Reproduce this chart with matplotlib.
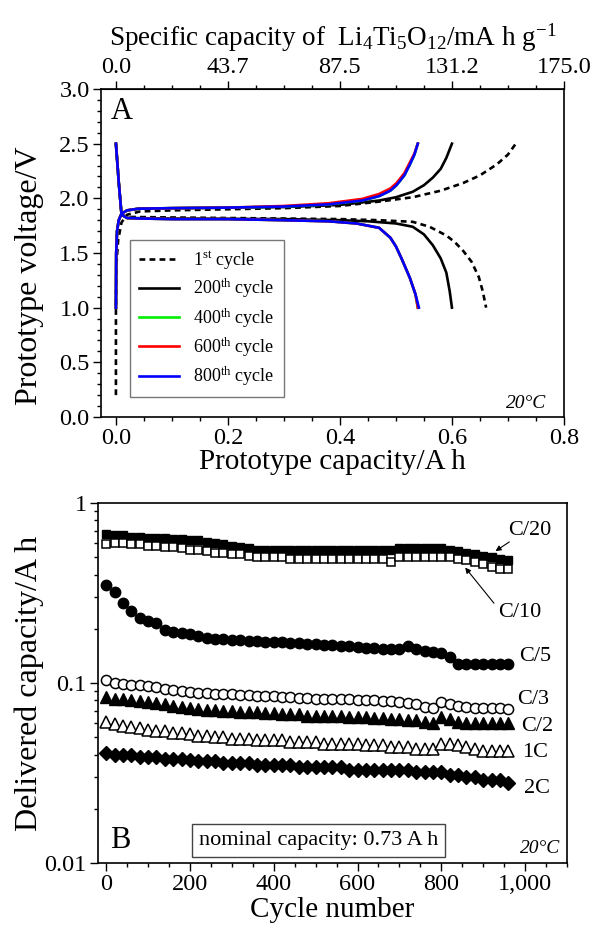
import numpy as np
import matplotlib
matplotlib.use("Agg")
import matplotlib.pyplot as plt
from matplotlib.ticker import MultipleLocator, FixedLocator, FuncFormatter, LogLocator, NullFormatter

plt.rcParams['font.family'] = ['Liberation Serif', 'DejaVu Serif']
plt.rcParams['mathtext.fontset'] = 'custom'
plt.rcParams['mathtext.rm'] = 'Liberation Serif'
plt.rcParams['mathtext.it'] = 'Liberation Serif:italic'

# ---------------- Panel A data (capacity / A h, voltage / V) ----------------
c1_chg_x = [0, 0, 0.001, 0.004, 0.01, 0.02, 0.043, 0.1, 0.2, 0.3, 0.4, 0.47, 0.53, 0.58, 0.62, 0.65, 0.68, 0.70, 0.714]
c1_chg_v = [0.2, 1.0, 1.40, 1.62, 1.78, 1.85, 1.88, 1.89, 1.90, 1.91, 1.93, 1.97, 2.01, 2.07, 2.14, 2.21, 2.31, 2.40, 2.50]
c1_dis_x = [0, 0.005, 0.01, 0.02, 0.1, 0.3, 0.4, 0.47, 0.53, 0.56, 0.59, 0.605, 0.62, 0.635, 0.648, 0.655, 0.661]
c1_dis_v = [2.5, 2.15, 1.85, 1.83, 1.825, 1.815, 1.81, 1.80, 1.785, 1.74, 1.66, 1.60, 1.52, 1.42, 1.28, 1.15, 1.0]

c200_chg_x = [0, 0.0005, 0.002, 0.005, 0.01, 0.02, 0.04, 0.1, 0.2, 0.3, 0.4, 0.47, 0.50, 0.53, 0.55, 0.566, 0.58, 0.59, 0.60]
c200_chg_v = [1.0, 1.5, 1.70, 1.80, 1.86, 1.89, 1.905, 1.91, 1.915, 1.92, 1.94, 1.98, 2.01, 2.06, 2.12, 2.19, 2.27, 2.37, 2.50]
c200_dis_x = [0, 0.005, 0.01, 0.02, 0.1, 0.3, 0.4, 0.45, 0.50, 0.53, 0.55, 0.566, 0.58, 0.59, 0.596, 0.60]
c200_dis_v = [2.5, 2.15, 1.85, 1.82, 1.815, 1.81, 1.80, 1.79, 1.77, 1.74, 1.67, 1.57, 1.45, 1.32, 1.15, 1.0]

c400_chg_x = [0, 0.0005, 0.002, 0.005, 0.01, 0.02, 0.04, 0.1, 0.2, 0.3, 0.38, 0.44, 0.47, 0.49, 0.501, 0.515, 0.525, 0.533, 0.539]
c400_chg_v = [1.0, 1.5, 1.70, 1.80, 1.86, 1.89, 1.905, 1.91, 1.915, 1.925, 1.945, 1.98, 2.02, 2.07, 2.12, 2.21, 2.31, 2.40, 2.50]
c400_dis_x = [0, 0.005, 0.01, 0.02, 0.05, 0.1, 0.2, 0.3, 0.38, 0.43, 0.47, 0.49, 0.50, 0.51, 0.525, 0.535, 0.539]
c400_dis_v = [2.5, 2.15, 1.85, 1.82, 1.815, 1.81, 1.81, 1.80, 1.79, 1.77, 1.73, 1.64, 1.56, 1.45, 1.27, 1.12, 1.0]

c600_chg_x = [0, 0.0005, 0.002, 0.005, 0.01, 0.02, 0.04, 0.1, 0.2, 0.3, 0.38, 0.44, 0.47, 0.49, 0.501, 0.515, 0.525, 0.533, 0.539]
c600_chg_v = [1.0, 1.5, 1.70, 1.80, 1.86, 1.89, 1.905, 1.91, 1.915, 1.93, 1.955, 1.995, 2.04, 2.09, 2.14, 2.23, 2.33, 2.41, 2.50]
c600_dis_x = [0, 0.005, 0.01, 0.02, 0.05, 0.1, 0.2, 0.3, 0.38, 0.43, 0.47, 0.49, 0.50, 0.51, 0.525, 0.535, 0.539]
c600_dis_v = [2.5, 2.15, 1.85, 1.82, 1.815, 1.81, 1.81, 1.80, 1.79, 1.77, 1.73, 1.64, 1.56, 1.45, 1.27, 1.12, 1.0]

c800_chg_x = [0, 0.0005, 0.002, 0.005, 0.01, 0.02, 0.04, 0.1, 0.2, 0.3, 0.38, 0.44, 0.47, 0.49, 0.501, 0.515, 0.525, 0.533, 0.539]
c800_chg_v = [1.0, 1.5, 1.70, 1.80, 1.86, 1.89, 1.905, 1.91, 1.915, 1.925, 1.945, 1.98, 2.02, 2.07, 2.12, 2.21, 2.31, 2.40, 2.50]
c800_dis_x = [0, 0.005, 0.01, 0.02, 0.05, 0.1, 0.2, 0.3, 0.38, 0.43, 0.47, 0.49, 0.50, 0.51, 0.525, 0.535, 0.541]
c800_dis_v = [2.5, 2.15, 1.85, 1.82, 1.815, 1.81, 1.81, 1.80, 1.79, 1.77, 1.73, 1.64, 1.56, 1.45, 1.27, 1.12, 1.0]

cycle_labels = [r"1$^{\mathrm{st}}$ cycle", r"200$^{\mathrm{th}}$ cycle", r"400$^{\mathrm{th}}$ cycle",
                r"600$^{\mathrm{th}}$ cycle", r"800$^{\mathrm{th}}$ cycle"]

# ---------------- Panel B data (cycle number, delivered capacity / A h) ----------------
cycles = list(range(0, 961, 20))
cap_c20 = [0.67, 0.66, 0.66, 0.65, 0.65, 0.64, 0.64, 0.64, 0.63, 0.63, 0.62, 0.62, 0.61, 0.60, 0.59, 0.58,
           0.57, 0.56, 0.55, 0.55, 0.55, 0.55, 0.55, 0.55, 0.55, 0.55, 0.55, 0.55, 0.55, 0.55, 0.55, 0.55,
           0.55, 0.55, 0.55, 0.56, 0.56, 0.56, 0.56, 0.56, 0.56, 0.55, 0.54, 0.53, 0.52, 0.51, 0.50, 0.49, 0.48]
cap_c10 = [0.59, 0.60, 0.60, 0.59, 0.59, 0.58, 0.58, 0.57, 0.57, 0.56, 0.55, 0.55, 0.54, 0.53, 0.53, 0.52,
           0.52, 0.51, 0.50, 0.50, 0.50, 0.50, 0.49, 0.49, 0.49, 0.49, 0.49, 0.49, 0.49, 0.49, 0.49, 0.49,
           0.49, 0.49, 0.47, 0.50, 0.50, 0.50, 0.50, 0.50, 0.50, 0.50, 0.49, 0.48, 0.47, 0.46, 0.44, 0.43, 0.43]
cap_c5 = [0.35, 0.32, 0.28, 0.25, 0.23, 0.22, 0.215, 0.197, 0.192, 0.19, 0.188, 0.182, 0.178, 0.176, 0.175,
          0.174, 0.173, 0.172, 0.171, 0.170, 0.169, 0.168, 0.167, 0.166, 0.165, 0.164, 0.163, 0.162, 0.161,
          0.160, 0.159, 0.157, 0.156, 0.155, 0.154, 0.155, 0.160, 0.155, 0.150, 0.148, 0.146, 0.140, 0.128,
          0.128, 0.128, 0.127, 0.127, 0.127, 0.127]
cap_c3 = [0.104, 0.100, 0.099, 0.098, 0.097, 0.096, 0.095, 0.093, 0.091, 0.090, 0.089, 0.088, 0.088, 0.087,
          0.087, 0.087, 0.086, 0.086, 0.085, 0.085, 0.085, 0.084, 0.084, 0.083, 0.083, 0.082, 0.082, 0.081,
          0.081, 0.081, 0.080, 0.080, 0.080, 0.079, 0.079, 0.078, 0.077, 0.076, 0.074, 0.073, 0.078, 0.076,
          0.075, 0.074, 0.073, 0.073, 0.073, 0.073, 0.072]
cap_c2 = [0.084, 0.082, 0.081, 0.080, 0.079, 0.078, 0.077, 0.076, 0.075, 0.074, 0.073, 0.072, 0.071, 0.071,
          0.070, 0.070, 0.069, 0.069, 0.069, 0.068, 0.068, 0.067, 0.067, 0.067, 0.066, 0.066, 0.066, 0.066,
          0.066, 0.065, 0.065, 0.065, 0.064, 0.064, 0.063, 0.063, 0.062, 0.062, 0.061, 0.060, 0.065, 0.063,
          0.061, 0.060, 0.060, 0.060, 0.060, 0.060, 0.060]
cap_1c = [0.061, 0.059, 0.058, 0.057, 0.056, 0.055, 0.054, 0.054, 0.053, 0.053, 0.052, 0.051, 0.051, 0.050,
          0.050, 0.049, 0.049, 0.049, 0.048, 0.048, 0.048, 0.048, 0.047, 0.047, 0.047, 0.047, 0.046, 0.046,
          0.046, 0.046, 0.046, 0.045, 0.045, 0.045, 0.044, 0.044, 0.044, 0.043, 0.043, 0.043, 0.046, 0.046,
          0.045, 0.044, 0.043, 0.042, 0.042, 0.042, 0.042]
cap_2c = [0.041, 0.040, 0.040, 0.040, 0.039, 0.039, 0.039, 0.038, 0.038, 0.038, 0.0375, 0.037, 0.037, 0.037,
          0.036, 0.036, 0.036, 0.036, 0.035, 0.035, 0.035, 0.035, 0.035, 0.034, 0.034, 0.034, 0.034, 0.034,
          0.034, 0.033, 0.033, 0.033, 0.033, 0.033, 0.033, 0.033, 0.033, 0.032, 0.032, 0.032, 0.032, 0.031,
          0.031, 0.030, 0.030, 0.029, 0.029, 0.029, 0.028]
rate_labels = ["C/20", "C/10", "C/5", "C/3", "C/2", "1C", "2C"]

# ---------------- Figure ----------------
TICK = 17.5
fig = plt.figure(figsize=(5.93, 9.32), dpi=100)
axA = fig.add_axes([0.170, 0.5526, 0.781, 0.3519])
axB = fig.add_axes([0.165, 0.0740, 0.791, 0.3863])

lw = 1.9
axA.plot(c1_chg_x, c1_chg_v, color='black', lw=lw, ls=(0, (2.2, 1.6)), label=cycle_labels[0])
axA.plot(c1_dis_x, c1_dis_v, color='black', lw=lw, ls=(0, (2.2, 1.6)))
axA.plot(c200_chg_x, c200_chg_v, color='black', lw=lw, label=cycle_labels[1])
axA.plot(c200_dis_x, c200_dis_v, color='black', lw=lw)
axA.plot(c400_chg_x, c400_chg_v, color='#00ee00', lw=lw, label=cycle_labels[2])
axA.plot(c400_dis_x, c400_dis_v, color='#00ee00', lw=lw)
axA.plot(c600_chg_x, c600_chg_v, color='#ff0000', lw=lw, label=cycle_labels[3])
axA.plot(c600_dis_x, c600_dis_v, color='#ff0000', lw=lw)
axA.plot(c800_chg_x, c800_chg_v, color='#0000ff', lw=lw, label=cycle_labels[4])
axA.plot(c800_dis_x, c800_dis_v, color='#0000ff', lw=lw)

axA.set_xlim(-0.027, 0.8)
axA.set_ylim(0, 3.0)
axA.xaxis.set_major_locator(MultipleLocator(0.2))
axA.xaxis.set_minor_locator(MultipleLocator(0.05))
axA.yaxis.set_major_locator(MultipleLocator(0.5))
axA.yaxis.set_minor_locator(MultipleLocator(0.1))
axA.xaxis.set_major_formatter(FuncFormatter(lambda v, p: f"{v:.1f}"))
axA.yaxis.set_major_formatter(FuncFormatter(lambda v, p: f"{v:.1f}"))
axA.tick_params(axis='both', which='major', direction='out', length=6, width=1, labelsize=TICK, pad=2)
axA.tick_params(axis='both', which='minor', direction='out', length=3, width=1)
axA.tick_params(top=False, right=False)
axA.set_xlabel("Prototype capacity/A h", fontsize=21, labelpad=0)
axA.set_ylabel("Prototype voltage/V", fontsize=23)
axA.yaxis.set_label_coords(-0.123, 0.43)

sec = axA.secondary_xaxis('top', functions=(lambda x: x * 218.75, lambda s: s / 218.75))
sec.xaxis.set_major_locator(FixedLocator([0, 43.75, 87.5, 131.25, 175.0]))
sec.xaxis.set_minor_locator(MultipleLocator(10.9375))
sec.set_xticklabels(["0.0", "43.7", "87.5", "131.2", "175.0"])
sec.tick_params(which='major', direction='out', length=6, width=1, labelsize=TICK, pad=2)
sec.tick_params(which='minor', direction='out', length=3, width=1)
sec.set_xlabel(r"Specific capacity of  Li$_4$Ti$_5$O$_{12}$/mA h g$^{-1}$", fontsize=19.5, labelpad=8)

leg = axA.legend(loc='lower left', bbox_to_anchor=(0.063, 0.061), borderaxespad=0, fontsize=13,
                 frameon=True, fancybox=False, edgecolor='#555555', handlelength=2.2,
                 labelspacing=0.32, borderpad=0.5, handletextpad=0.8)
leg.get_frame().set_linewidth(1.0)
axA.text(0.046, 0.931, "A", transform=axA.transAxes, fontsize=22, va='center', ha='center')
axA.text(0.962, 0.015, "20°C", transform=axA.transAxes, fontsize=14, style='italic', ha='right', va='bottom')

# Panel B
axB.plot(cycles, cap_c20, ls='none', marker='s', ms=6.3, mfc='black', mec='black')
axB.plot(cycles, cap_c10, ls='none', marker='s', ms=6.3, mfc='white', mec='black', mew=1.1)
axB.plot(cycles, cap_c5, ls='none', marker='o', ms=7.5, mfc='black', mec='black')
axB.plot(cycles, cap_c3, ls='none', marker='o', ms=7.3, mfc='white', mec='black', mew=1.1)
axB.plot(cycles, cap_c2, ls='none', marker='^', ms=8.0, mfc='black', mec='black')
axB.plot(cycles, cap_1c, ls='none', marker='^', ms=8.0, mfc='white', mec='black', mew=1.1)
axB.plot(cycles, cap_2c, ls='none', marker='D', ms=6.8, mfc='black', mec='black')

axB.set_yscale('log')
axB.set_xlim(-20, 1100)
axB.set_ylim(0.01, 1)
axB.xaxis.set_major_locator(FixedLocator([0, 200, 400, 600, 800, 1000]))
axB.xaxis.set_minor_locator(MultipleLocator(50))
axB.xaxis.set_major_formatter(FuncFormatter(lambda v, p: f"{int(v):,}"))
axB.yaxis.set_major_locator(FixedLocator([0.01, 0.1, 1]))
axB.yaxis.set_major_formatter(FuncFormatter(lambda v, p: {0.01: "0.01", 0.1: "0.1", 1: "1"}.get(round(v, 2), "")))
axB.yaxis.set_minor_locator(LogLocator(base=10, subs=np.arange(2, 10)))
axB.yaxis.set_minor_formatter(NullFormatter())
axB.tick_params(axis='both', which='major', direction='out', length=6, width=1, labelsize=TICK, pad=2)
axB.tick_params(axis='both', which='minor', direction='out', length=3, width=1)
axB.tick_params(top=False, right=False)
axB.set_xlabel("Cycle number", fontsize=21, labelpad=1)
axB.set_ylabel("Delivered capacity/A h", fontsize=23)
axB.yaxis.set_label_coords(-0.114, 0.5)

label_pos = {"C/20": (1012, 0.70), "C/10": (988, 0.245), "C/5": (1024, 0.14), "C/3": (1020, 0.081),
             "C/2": (1028, 0.057), "1C": (1024, 0.041), "2C": (1028, 0.026)}
for lab in rate_labels:
    x, y = label_pos[lab]
    axB.text(x, y, lab, fontsize=16, ha='center', va='center')
axB.annotate("", xy=(924, 0.53), xytext=(968, 0.62),
             arrowprops=dict(arrowstyle='-|>', color='black', lw=0.8, mutation_scale=8))
axB.annotate("", xy=(853, 0.45), xytext=(930, 0.27),
             arrowprops=dict(arrowstyle='-|>', color='black', lw=0.8, mutation_scale=8))

axB.text(33, 0.0134, "B", fontsize=22, ha='center', va='center')
axB.text(0.471, 0.0625, "nominal capacity: 0.73 A h", transform=axB.transAxes, fontsize=16,
         ha='center', va='center',
         bbox=dict(boxstyle='square,pad=0.3', fc='white', ec='#444444', lw=1.0))
axB.text(0.985, 0.017, "20°C", transform=axB.transAxes, fontsize=14, style='italic', ha='right', va='bottom')

for ax in (axA, axB):
    for s in ax.spines.values():
        s.set_linewidth(1.2)

fig.savefig("out.png", dpi=100)
